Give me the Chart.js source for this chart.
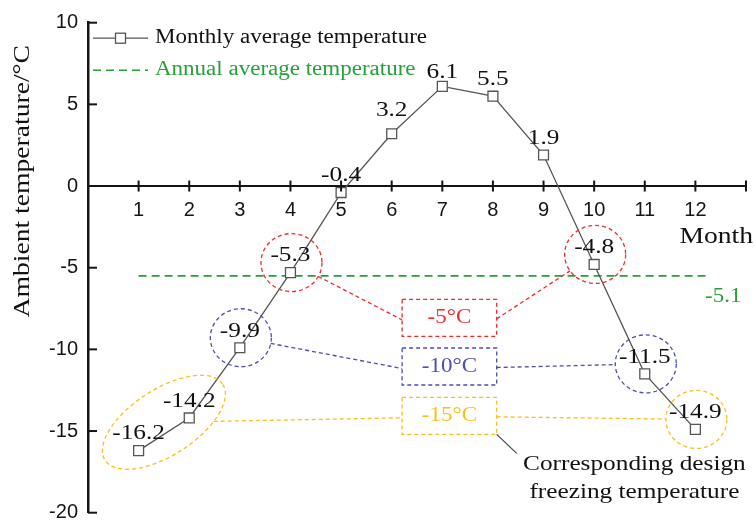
<!DOCTYPE html>
<html><head><meta charset="utf-8">
<script src="https://cdn.jsdelivr.net/npm/chart.js@4/dist/chart.umd.min.js"></script>
<style>html,body{margin:0;padding:0;background:#fff;}#wrap{width:756px;height:521px;}</style>
</head><body><div id="wrap"><canvas id="c" width="756" height="521"></canvas></div>
<script>
// ---------- data ----------
const months = [1,2,3,4,5,6,7,8,9,10,11,12];
const xTickLabels = ['1','2','3','4','5','6','7','8','9','10','11','12'];
const monthlyAvgTemp = [-16.2,-14.2,-9.9,-5.3,-0.4,3.2,6.1,5.5,1.9,-4.8,-11.5,-14.9];
const yTicks = [10,5,0,-5,-10,-15,-20];
const annualAvgLabel = '-5.1';
const annualLineLevel = -5.5;          // level at which the dashed line is drawn in the picture
const annualLineSpan = [1, 12.2];      // months covered by the dashed line
const seriesNames = ['Monthly average temperature','Annual average temperature'];
const freezeLevels = ['-5\u00B0C','-10\u00B0C','-15\u00B0C'];
const freezeLeftMonths = [[4],[3],[1,2]];
const freezeRightMonths = [[10],[11],[12]];
const xAxisTitle = 'Month';
const yAxisTitle = 'Ambient temperature/\u00B0C';
const noteLines = ['Corresponding design','freezing temperature'];

// ---------- styles ----------
const SERIF = '"Liberation Serif", "Times New Roman", serif';
const SANS = '"Liberation Sans", Arial, sans-serif';
const STRETCH = 1.15;
const AX = '#151515';
const GREEN = '#27a03a';
const FREEZE_COLORS = ['#f5282d', '#4b4db3', '#fbbf1c'];
const labelNudge = {6:[0,-7], 7:[0,3]};  // extra offsets for a few value labels (pixels)
const boxCenters = [[7.14,-8.07],[7.14,-11.05],[7.14,-14.07]];  // annotation box centres (axis units)

function sText(ctx, txt, x, y, size, color, align, rot) {
  ctx.save();
  ctx.translate(x, y);
  if (rot) ctx.rotate(rot);
  ctx.scale(STRETCH, 1);
  ctx.font = size + 'px ' + SERIF;
  ctx.fillStyle = color;
  ctx.textAlign = align || 'center';
  ctx.textBaseline = 'middle';
  ctx.fillText(txt, 0, 0);
  ctx.restore();
}

const decor = {
  id: 'decor',
  afterDatasetsDraw(chart) {
    const ctx = chart.ctx, X = chart.scales.x, Y = chart.scales.y;
    const px = v => X.getPixelForValue(v), py = v => Y.getPixelForValue(v);
    const ca = chart.chartArea;

    // axis tick marks
    ctx.save();
    ctx.strokeStyle = AX; ctx.lineWidth = 2;
    const y0 = py(0);
    for (let m = 1; m <= 13; m++) {
      const x = px(m);
      ctx.beginPath(); ctx.moveTo(x, y0 - 5.5); ctx.lineTo(x, y0 + 5.5); ctx.stroke();
    }
    yTicks.forEach(v => {
      if (v === 0) return;
      const y = py(v);
      ctx.beginPath(); ctx.moveTo(ca.left, y); ctx.lineTo(ca.left + 9, y); ctx.stroke();
    });
    ctx.restore();

    // freeze annotations
    const BW = 94.6, BH = 37, RX = 30.5, RY = 29;
    freezeLevels.forEach((lab, i) => {
      const col = FREEZE_COLORS[i];
      const bx = px(boxCenters[i][0]), by = py(boxCenters[i][1]);
      ctx.save();
      ctx.strokeStyle = col; ctx.lineWidth = 1.3; ctx.setLineDash([4, 3]);
      ctx.strokeRect(bx - BW / 2, by - BH / 2, BW, BH);
      // left group
      const L = freezeLeftMonths[i];
      const lp = L.map(m => [px(m), py(monthlyAvgTemp[m - 1])]);
      const target = [bx - BW / 2, by + 2];
      let cx, cy, a, b, rot;
      if (L.length === 1) { cx = lp[0][0] + 1; cy = lp[0][1] - 10; a = RX; b = RY; rot = 0; }
      else {
        cx = (lp[0][0] + lp[1][0]) / 2; cy = (lp[0][1] + lp[1][1]) / 2 - 12;
        rot = Math.atan2(lp[1][1] - lp[0][1], lp[1][0] - lp[0][0]); a = 70; b = 33;
      }
      ctx.beginPath(); ctx.ellipse(cx, cy, a, b, rot, 0, Math.PI * 2); ctx.stroke();
      let ang = Math.atan2(target[1] - cy, target[0] - cx) - rot;
      let r = 1 / Math.sqrt(Math.cos(ang) ** 2 / (a * a) + Math.sin(ang) ** 2 / (b * b));
      ang += rot;
      ctx.beginPath(); ctx.moveTo(cx + r * Math.cos(ang), cy + r * Math.sin(ang)); ctx.lineTo(target[0], target[1]); ctx.stroke();
      // right group
      const R = freezeRightMonths[i];
      const rcx = px(R[0]) + 1, rcy = py(monthlyAvgTemp[R[0] - 1]) - 10;
      ctx.beginPath(); ctx.ellipse(rcx, rcy, RX, RY, 0, 0, Math.PI * 2); ctx.stroke();
      const t2 = [bx + BW / 2, by + 1];
      let ang2 = Math.atan2(t2[1] - rcy, t2[0] - rcx);
      let r2 = 1 / Math.sqrt(Math.cos(ang2) ** 2 / (RX * RX) + Math.sin(ang2) ** 2 / (RY * RY));
      ctx.beginPath(); ctx.moveTo(t2[0], t2[1]); ctx.lineTo(rcx + r2 * Math.cos(ang2), rcy + r2 * Math.sin(ang2)); ctx.stroke();
      ctx.restore();
      sText(ctx, lab, bx, by, 20, col, 'center');
      if (i === 2) {
        ctx.save(); ctx.strokeStyle = '#444'; ctx.lineWidth = 1.2;
        ctx.beginPath(); ctx.moveTo(bx + BW / 2, by + BH / 2); ctx.lineTo(bx + BW / 2 + 20, by + BH / 2 + 19); ctx.stroke();
        ctx.restore();
        sText(ctx, noteLines[0], bx + 185, by + 48, 22, '#111', 'center');
        sText(ctx, noteLines[1], bx + 185, by + 76, 22, '#111', 'center');
      }
    });

    // value labels
    monthlyAvgTemp.forEach((v, i) => {
      const m = months[i];
      const n = labelNudge[m] || [0, 0];
      sText(ctx, v.toFixed(1), px(m) + n[0], py(v) - 17 + n[1], 22, '#111', 'center');
    });

    // annual average value label
    sText(ctx, annualAvgLabel, px(12.55), py(annualLineLevel) + 21, 20, GREEN, 'center');

    // axis titles
    sText(ctx, xAxisTitle, ca.right + 7, py(0) + 51, 24, '#111', 'right');
    sText(ctx, yAxisTitle, 23, (ca.top + py(-5)) / 2 + 36, 24, '#111', 'center', -Math.PI / 2);

    // legend
    const lx = ca.left + 5, ly1 = ca.top + 15.5, ly2 = ca.top + 47.5;
    ctx.save();
    ctx.strokeStyle = '#555'; ctx.lineWidth = 1.3;
    ctx.beginPath(); ctx.moveTo(lx, ly1); ctx.lineTo(lx + 55, ly1); ctx.stroke();
    ctx.fillStyle = '#fff';
    ctx.fillRect(lx + 22.5, ly1 - 5, 10, 10); ctx.strokeRect(lx + 22.5, ly1 - 5, 10, 10);
    ctx.strokeStyle = GREEN; ctx.lineWidth = 1.6; ctx.setLineDash([8, 5]);
    ctx.beginPath(); ctx.moveTo(lx, ly2); ctx.lineTo(lx + 55, ly2); ctx.stroke();
    ctx.restore();
    sText(ctx, seriesNames[0], lx + 62, ly1, 20, '#111', 'left');
    sText(ctx, seriesNames[1], lx + 62, ly2, 20, GREEN, 'left');
  }
};

new Chart(document.getElementById('c'), {
  type: 'line',
  data: {
    datasets: [
      {
        label: seriesNames[0],
        data: months.map((m, i) => ({x: m, y: monthlyAvgTemp[i]})),
        borderColor: '#555', borderWidth: 1.3, tension: 0,
        pointStyle: 'rect', pointRadius: 7, pointBackgroundColor: '#fff',
        pointBorderColor: '#555', pointBorderWidth: 1.3, clip: false
      },
      {
        label: seriesNames[1],
        data: annualLineSpan.map(x => ({x: x, y: annualLineLevel})),
        borderColor: GREEN, borderWidth: 1.6, borderDash: [8, 5], pointRadius: 0
      }
    ]
  },
  options: {
    responsive: false, animation: false, devicePixelRatio: 1,
    layout: {padding: {left: 0, top: 22.7, right: 10, bottom: 7}},
    plugins: {legend: {display: false}, tooltip: {enabled: false}},
    scales: {
      x: {
        type: 'linear', min: 0, max: 13, position: {y: 0},
        grid: {display: false, drawTicks: false},
        border: {display: true, color: AX, width: 2},
        ticks: {
          stepSize: 1, autoSkip: false, maxRotation: 0, padding: 12,
          color: AX, font: {family: SANS, size: 20},
          callback: v => (v >= 1 && v <= 12) ? xTickLabels[v - 1] : ''
        },
        afterFit(s) { s.paddingLeft = 0; s.paddingRight = 0; s.paddingTop = 0; s.paddingBottom = 0; }
      },
      y: {
        type: 'linear', min: -20, max: 10,
        grid: {display: false, drawTicks: false},
        border: {display: true, color: AX, width: 2.5},
        ticks: {color: AX, padding: 10, font: {family: SANS, size: 20}},
        afterBuildTicks(s) { s.ticks = yTicks.map(v => ({value: v})); },
        afterFit(s) { s.width = 88; s.paddingLeft = 0; s.paddingRight = 0; s.paddingTop = 0; s.paddingBottom = 0; }
      }
    }
  },
  plugins: [decor]
});
</script>
</body></html>
